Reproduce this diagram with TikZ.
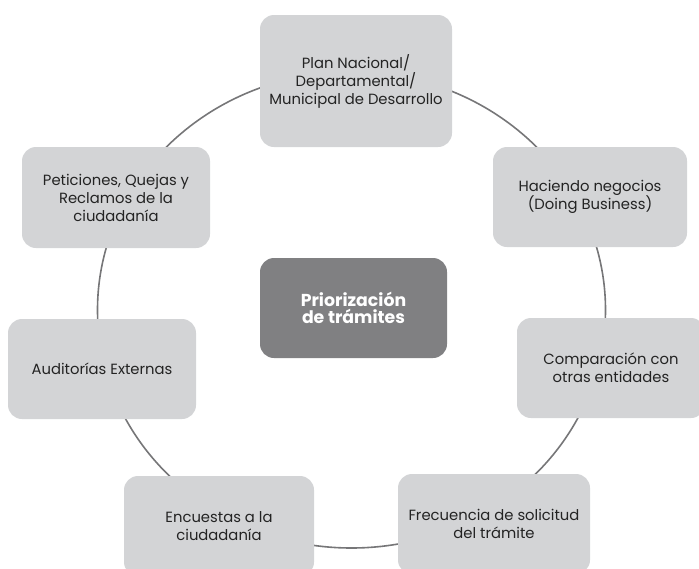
\documentclass[tikz,border=0pt]{standalone}
\usepackage{fontspec}
\setmainfont{Poppins}
\definecolor{boxgray}{RGB}{211,212,214}
\definecolor{centergray}{RGB}{128,128,130}
\definecolor{ringgray}{RGB}{118,118,120}
\definecolor{textgray}{RGB}{35,35,35}
\begin{document}
\begin{tikzpicture}[x=1pt,y=-1pt,
  ringline/.style={draw=ringgray, line width=1.6pt},
  box/.style={fill=boxgray, rounded corners=14pt, align=center, text=textgray,
    font=\fontsize{14.8}{18}\selectfont, inner sep=0pt},
  centerbox/.style={fill=centergray, rounded corners=14pt, align=center, text=white,
    font=\fontsize{17.3}{17.5}\selectfont\bfseries, inner sep=0pt}]
\useasboundingbox (0,0) rectangle (699,568);
\clip (0,0) rectangle (699,568);
\draw[ringline] (351.5,310) ellipse [x radius=254, y radius=238];
\node[box, minimum width=192pt, minimum height=132pt] (plan) at (356,81)
  {Plan Nacional/\\Departamental/\\Municipal de Desarrollo};
\node[box, minimum width=188pt, minimum height=101pt] (pet) at (116,197.5)
  {Peticiones, Quejas y\\Reclamos de la\\ciudadanía};
\node[box, minimum width=194pt, minimum height=100pt] (hac) at (590,197)
  {Haciendo negocios\\(Doing Business)};
\node[centerbox, minimum width=187pt, minimum height=100pt] (cen) at (353.5,308)
  {Priorización\\de trámites};
\node[box, minimum width=188pt, minimum height=100pt] (aud) at (102,369)
  {Auditorías Externas};
\node[box, minimum width=188pt, minimum height=100pt] (comp) at (611,368)
  {Comparación con\\otras entidades};
\node[box, minimum width=190pt, minimum height=100pt] (enc) at (219,526)
  {Encuestas a la\\ciudadanía};
\node[box, minimum width=192pt, minimum height=100pt] (frec) at (494,524)
  {Frecuencia de solicitud\\del trámite};
\end{tikzpicture}
\end{document}
